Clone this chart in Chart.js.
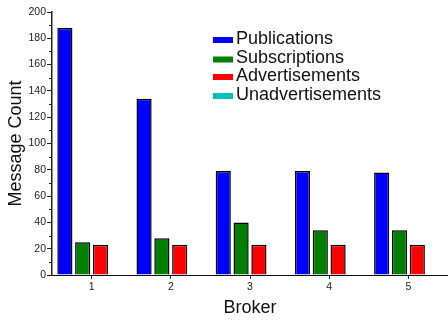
<!DOCTYPE html>
<html>
<head>
<meta charset="utf-8">
<script src="https://cdn.jsdelivr.net/npm/chart.js@4/dist/chart.umd.min.js"></script>
<style>
  html, body { margin: 0; padding: 0; background: #fff; }
  #wrap { width: 448px; height: 320px; }
</style>
</head>
<body>
<div id="wrap"><canvas id="brokerChart" width="448" height="320"></canvas></div>
<script>
// Data
const brokers = ['1', '2', '3', '4', '5'];
const seriesNames = ['Publications', 'Subscriptions', 'Advertisements', 'Unadvertisements'];
const publications = [188, 134, 79, 79, 78];
const subscriptions = [25, 28, 40, 34, 34];
const advertisements = [23, 23, 23, 23, 23];
const unadvertisements = [0, 0, 0, 0, 0];
const seriesColors = ['#0000ff', '#008000', '#ff0000', '#00c0c0'];

const FONT = "'Liberation Sans', Arial, Helvetica, sans-serif";

// Minor ticks on the y axis (every 10 between the labelled ones)
const minorTicks = {
    id: 'minorTicks',
    afterDraw(chart) {
        const y = chart.scales.y;
        const ctx = chart.ctx;
        const left = chart.chartArea.left;
        ctx.save();
        ctx.strokeStyle = '#222';
        ctx.lineWidth = 1;
        for (let v = y.min + 10; v < y.max; v += 20) {
            const py = Math.round(y.getPixelForValue(v)) + 0.5;
            ctx.beginPath();
            ctx.moveTo(left - 3, py);
            ctx.lineTo(left, py);
            ctx.stroke();
        }
        ctx.restore();
    }
};

// Legend drawn inside the plot, as in the original
const insideLegend = {
    id: 'insideLegend',
    afterDraw(chart) {
        const ctx = chart.ctx;
        const rows = [40, 59.5, 77, 96];
        const boxX = 213;
        ctx.save();
        ctx.font = '18px ' + FONT;
        ctx.textBaseline = 'middle';
        ctx.textAlign = 'left';
        chart.data.datasets.forEach((ds, i) => {
            ctx.fillStyle = seriesColors[i];
            ctx.fillRect(boxX, rows[i] - 3, 20, 6);
            ctx.fillStyle = '#111';
            ctx.fillText(ds.label, boxX + 23, rows[i] - 1);
        });
        ctx.restore();
    }
};

const datasetValues = [publications, subscriptions, advertisements, unadvertisements];

new Chart(document.getElementById('brokerChart').getContext('2d'), {
    type: 'bar',
    data: {
        labels: brokers,
        datasets: seriesNames.map((name, i) => ({
            label: name,
            data: datasetValues[i],
            backgroundColor: seriesColors[i],
            borderColor: '#000',
            borderWidth: i === 3 ? 0 : 1.5,
            categoryPercentage: 0.9,
            barPercentage: 0.85
        }))
    },
    options: {
        responsive: false,
        animation: false,
        layout: {
            padding: { top: 12, right: 0, left: 0, bottom: 0 }
        },
        plugins: {
            legend: { display: false },
            tooltip: { enabled: false }
        },
        scales: {
            x: {
                afterFit: function(scale) { scale.height = 45; },
                grid: {
                    display: true,
                    drawOnChartArea: false,
                    offset: false,
                    tickLength: 4,
                    tickColor: '#222'
                },
                border: { display: true, color: '#111', width: 1 },
                ticks: {
                    color: '#222',
                    padding: 2,
                    font: { family: FONT, size: 10.5 }
                },
                title: {
                    display: true,
                    text: 'Broker',
                    color: '#111',
                    padding: { top: 0, bottom: 1 },
                    font: { family: FONT, size: 18 }
                }
            },
            y: {
                min: 0,
                max: 200,
                afterFit: function(scale) { scale.width = 52; },
                grid: {
                    display: true,
                    drawOnChartArea: false,
                    tickLength: 5,
                    tickColor: '#222'
                },
                border: { display: true, color: '#222', width: 1.5 },
                ticks: {
                    stepSize: 20,
                    color: '#222',
                    padding: 1,
                    font: { family: FONT, size: 10.5 }
                },
                title: {
                    display: true,
                    text: 'Message Count',
                    color: '#111',
                    padding: { top: 5, bottom: 0 },
                    font: { family: FONT, size: 18 }
                }
            }
        }
    },
    plugins: [minorTicks, insideLegend]
});
</script>
</body>
</html>
